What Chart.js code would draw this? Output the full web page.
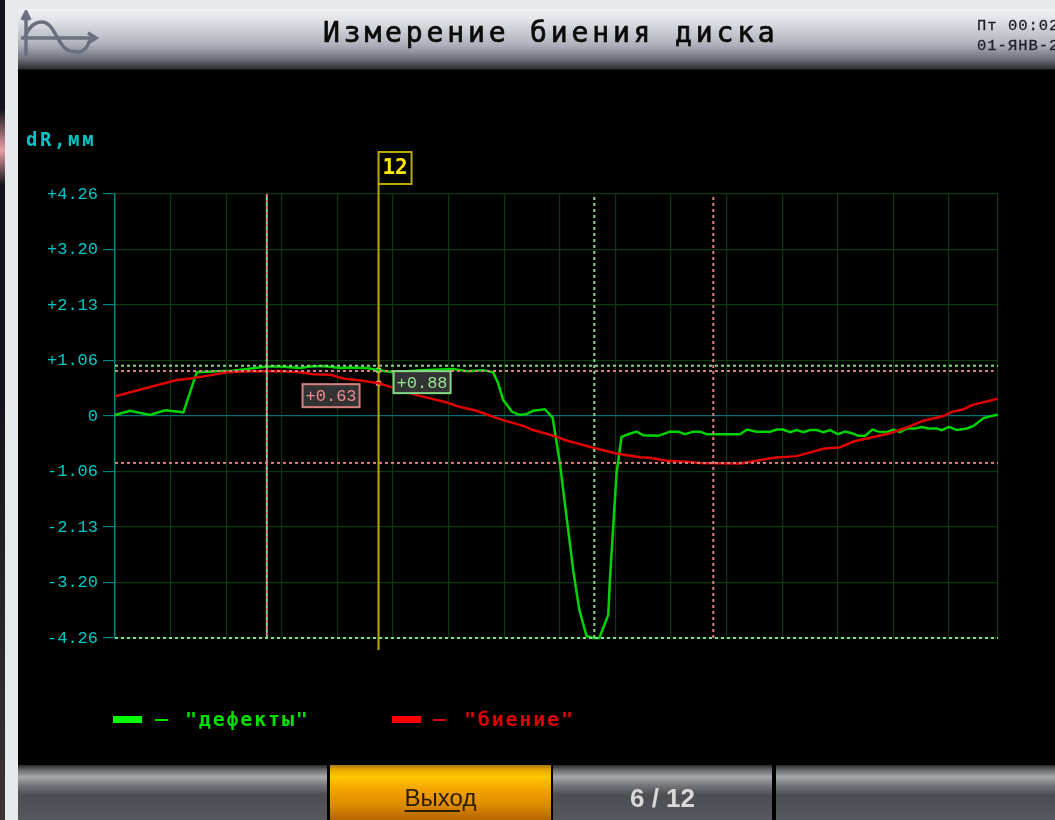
<!DOCTYPE html>
<html lang="ru">
<head>
<meta charset="utf-8">
<title>Измерение биения диска</title>
<script src="https://cdn.jsdelivr.net/npm/chart.js@4"></script>
<style>
  html, body { margin: 0; width: 1055px; height: 820px; overflow: hidden; background: #e8e9ea; }
  body > * { filter: blur(0.45px); }
  .abs { position: absolute; white-space: pre; }
  #edge { left: 0; top: 0; width: 5px; height: 820px;
    background: linear-gradient(#14141c 0, #14141c 110px, #e8a0a8 150px, #14141c 185px, #14141c 400px, #3a3436 100%); }
  #screen { left: 18px; top: 9px; width: 1037px; height: 811px; background: #000; }
  #header { left: 18px; top: 9px; width: 1037px; height: 61px;
    background: linear-gradient(#f0f2f6 0, #dfe1e6 12px, #aeb1bb 36px, #6d717c 50px, #2c2e34 60px, #000 61px); }
  #title { left: 323px; top: 16px; font: 28px "DejaVu Sans Mono"; letter-spacing: 3.85px; -webkit-text-stroke: 0.7px #0a0a0a; color: #0a0a0a; }
  #clock { left: 977px; top: 16px; font: 15.5px/20px "Liberation Mono"; -webkit-text-stroke: 0.3px #20222a; letter-spacing: 1px; color: #20222a; }
  #logo { left: 20px; top: 10px; }
  #unit { left: 26px; top: 128px; font: bold 19px "DejaVu Sans Mono"; letter-spacing: 2.6px; color: #00c4c4; }
  canvas { position: absolute; left: 0; top: 0; }
  .swatch { width: 29px; height: 7px; top: 716px; }
  .dash { width: 13px; height: 2px; top: 719px; }
  .legend-text { top: 707px; font: bold 20px "DejaVu Sans Mono"; letter-spacing: 1.8px; }
  .btn { top: 765px; height: 55px;
    background: linear-gradient(#26272b 0, #6a6b70 5px, #a8a9ad 12px, #77787d 20px, #4c4e54 30px, #56585e 100%); }
  #exit { background: linear-gradient(#a87a10 0, #eaa800 5px, #ffc800 12px, #f4a400 24px, #dc8c00 40px, #b46400 100%);
    font: 24px "Liberation Sans"; color: #2a1c00; text-align: center; line-height: 66px; }
  #exit u { text-underline-offset: 4px; }
  #page { font: bold 26px "Liberation Sans"; color: #d8d8d8; text-align: center; line-height: 66px; }
</style>
</head>
<body>
<div class="abs" id="edge"></div>
<div class="abs" id="screen"></div>
<div class="abs" id="header"></div>
<svg class="abs" id="logo" width="80" height="50" viewBox="0 0 80 50" fill="none" stroke="#6b7080" stroke-width="3.5">
  <path d="M6 3V46M1 28H74M2 10L6 2L10 10M68 23L76 28L68 33"/>
  <path d="M5 27C10 14 17 12 22 12C30 12 34 22 40 32C46 42 52 42 58 42C64 42 68 36 70 30"/>
</svg>
<div class="abs" id="title">Измерение биения диска</div>
<div class="abs" id="clock">Пт 00:02:17
01-ЯНВ-2000</div>
<div class="abs" id="unit">dR,мм</div>
<canvas id="chart" width="1055" height="820"></canvas>
<div class="abs swatch" style="left:113px;background:#00ff00"></div>
<div class="abs dash" style="left:155px;background:#00e000"></div>
<div class="abs legend-text" id="leg0" style="left:185px;color:#00e000"></div>
<div class="abs swatch" style="left:392px;background:#ff0000"></div>
<div class="abs dash" style="left:433px;background:#e00000"></div>
<div class="abs legend-text" id="leg1" style="left:464px;color:#e00000"></div>
<div class="abs btn" style="left:18px;width:309px"></div>
<div class="abs btn" id="exit" style="left:330px;width:221px"><u>Выход</u></div>
<div class="abs btn" id="page" style="left:553px;width:219px">6 / 12</div>
<div class="abs btn" style="left:776px;width:279px"></div>
<script>
const seriesNames = ['"дефекты"', '"биение"'];

// x is in grid divisions, y in mm
const defectX = [0, 0.27, 0.63, 0.9, 1.23, 1.47, 1.83, 2.12, 2.73, 2.97, 3.33, 3.51, 3.75, 4.05, 4.23, 4.53, 4.74, 5, 5.49, 6.08, 6.33, 6.62, 6.8, 6.89, 6.98, 7.14, 7.28, 7.41, 7.52, 7.73, 7.87, 8, 8.24, 8.35, 8.48, 8.6, 8.71, 8.87, 8.9, 9.02, 9.11, 9.23, 9.38, 9.5, 9.77, 9.98, 10.13, 10.25, 10.4, 10.52, 10.64, 11.24, 11.37, 11.54, 11.78, 11.9, 12.01, 12.14, 12.26, 12.38, 12.5, 12.62, 12.74, 12.86, 13, 13.13, 13.25, 13.37, 13.49, 13.62, 13.73, 13.88, 14, 14.12, 14.24, 14.39, 14.51, 14.62, 14.78, 14.87, 15, 15.14, 15.32, 15.44, 15.62, 15.87];
const defectY = [0.02, 0.1, 0.02, 0.11, 0.07, 0.84, 0.86, 0.87, 0.95, 0.95, 0.92, 0.95, 0.96, 0.92, 0.93, 0.92, 0.88, 0.84, 0.88, 0.9, 0.86, 0.88, 0.84, 0.63, 0.31, 0.08, 0.02, 0.04, 0.1, 0.13, -0.03, -0.9, -2.96, -3.72, -4.22, -4.26, -4.26, -3.82, -3.15, -1.09, -0.4, -0.35, -0.3, -0.37, -0.38, -0.3, -0.3, -0.35, -0.3, -0.3, -0.35, -0.35, -0.26, -0.3, -0.3, -0.26, -0.26, -0.31, -0.27, -0.31, -0.27, -0.27, -0.31, -0.27, -0.35, -0.3, -0.33, -0.38, -0.38, -0.26, -0.3, -0.31, -0.26, -0.31, -0.24, -0.24, -0.21, -0.24, -0.24, -0.27, -0.21, -0.27, -0.24, -0.19, -0.04, 0.03];

const runoutX = [0, 1.11, 1.35, 1.65, 2.01, 2.43, 3.02, 3.33, 3.57, 3.87, 4.11, 4.41, 4.74, 5.43, 5.97, 6.15, 6.5, 6.92, 7.34, 7.52, 7.82, 7.94, 8.12, 8.6, 9.02, 9.44, 9.62, 9.92, 10.28, 10.52, 11.24, 11.54, 11.84, 12.26, 12.74, 13.04, 13.28, 13.94, 14.24, 14.54, 14.9, 15.05, 15.26, 15.41, 15.87];
const runoutY = [0.38, 0.69, 0.72, 0.77, 0.84, 0.86, 0.86, 0.84, 0.8, 0.79, 0.72, 0.68, 0.63, 0.4, 0.26, 0.19, 0.1, -0.06, -0.19, -0.27, -0.36, -0.4, -0.47, -0.61, -0.72, -0.79, -0.8, -0.86, -0.88, -0.9, -0.91, -0.86, -0.8, -0.77, -0.63, -0.6, -0.49, -0.33, -0.22, -0.09, 0, 0.08, 0.13, 0.21, 0.33];

const yTicks = [4.26, 3.2, 2.13, 1.06, 0, -1.06, -2.13, -3.2, -4.26];
const yLabels = ['+4.26', '+3.20', '+2.13', '+1.06', '0', '-1.06', '-2.13', '-3.20', '-4.26'];
const xTicks = [0, 1, 2, 3, 4, 5, 6, 7, 8, 9, 10, 11, 12, 13, 14, 15, 15.88];

const defectMax = 0.965, defectMin = -4.26, runoutMax = 0.864, runoutMin = -0.9;
const defectMaxAt = 2.73, defectMinAt = 8.62, runoutMaxAt = 2.73, runoutMinAt = 10.76;
const cursorAt = 4.74, cursorNumber = '12', cursorDefect = 0.88, cursorRunout = 0.63;

document.getElementById('leg0').textContent = seriesNames[0];
document.getElementById('leg1').textContent = seriesNames[1];

const pairs = (xs, ys) => xs.map((x, i) => ({ x, y: ys[i] }));
const dotted = (data, color, offset) => ({
  data, borderColor: color, borderWidth: 2, borderDash: [3, 3], borderDashOffset: offset || 0,
  pointRadius: 0, clip: false,
});

const dimGreen = '#86d986', dimRed = '#d88080';

// cursor flag and the two value boxes
const cursorLabels = {
  id: 'cursorLabels',
  afterDatasetsDraw(chart) {
    const { ctx, scales: { x, y } } = chart;
    const cx = x.getPixelForValue(cursorAt);
    const box = (left, top, w, h, fill, stroke, color, text, font) => {
      ctx.fillStyle = fill;
      ctx.strokeStyle = stroke;
      ctx.lineWidth = 2;
      ctx.fillRect(left, top, w, h);
      ctx.strokeRect(left, top, w, h);
      ctx.fillStyle = color;
      ctx.font = font;
      ctx.textAlign = 'center';
      ctx.textBaseline = 'middle';
      ctx.fillText(text, left + w / 2, top + h / 2 + 1);
    };
    ctx.save();
    box(cx, 152, 33, 32, '#000', '#b8a800', '#ffe800', cursorNumber, 'bold 21px "DejaVu Sans Mono"');
    const font = '17px "Liberation Mono"';
    box(cx + 15, y.getPixelForValue(cursorDefect) + 1, 57, 22, '#333', dimGreen, '#94e894', '+' + cursorDefect.toFixed(2), font);
    box(cx - 76, y.getPixelForValue(cursorRunout) + 1, 57, 23, '#333', dimRed, '#f08c8c', '+' + cursorRunout.toFixed(2), font);
    ctx.restore();
  },
};

new Chart(document.getElementById('chart'), {
  type: 'line',
  data: {
    datasets: [
      dotted(pairs([0, 15.88], [defectMax, defectMax]), dimGreen),
      dotted(pairs([0, 15.8], [runoutMax, runoutMax]), dimRed),
      dotted(pairs([0, 15.88], [runoutMin, runoutMin]), dimRed),
      dotted(pairs([0, 15.88], [defectMin, defectMin]), dimGreen),
      dotted(pairs([defectMinAt, defectMinAt], [defectMin, 4.26]), dimGreen),
      dotted(pairs([runoutMinAt, runoutMinAt], [defectMin, 4.26]), dimRed),
      dotted(pairs([defectMaxAt, defectMaxAt], [defectMin, 4.26]), dimGreen),
      dotted(pairs([runoutMaxAt, runoutMaxAt], [defectMin, 4.26]), dimRed, 3),
      {
        label: seriesNames[1], data: pairs(runoutX, runoutY),
        borderColor: '#e00000', borderWidth: 2.5, pointRadius: 0, tension: 0,
      },
      {
        label: seriesNames[0], data: pairs(defectX, defectY),
        borderColor: '#00d400', borderWidth: 2.5, pointRadius: 0, tension: 0, clip: false,
      },
      {
        data: pairs([cursorAt, cursorAt], [4.46, -4.49]),
        borderColor: '#b8a800', borderWidth: 2, pointRadius: 0, clip: false,
      },
      {
        data: pairs([cursorAt], [cursorDefect]), showLine: false,
        pointRadius: 3, pointBackgroundColor: '#a8f0a8', pointBorderWidth: 0,
      },
      {
        data: pairs([cursorAt], [cursorRunout]), showLine: false,
        pointRadius: 3, pointBackgroundColor: '#ff9090', pointBorderWidth: 0,
      },
    ],
  },
  options: {
    responsive: false,
    animation: false,
    layout: { padding: { left: 0, right: 57, top: 194, bottom: 182 } },
    plugins: { legend: { display: false }, tooltip: { enabled: false } },
    scales: {
      x: {
        type: 'linear', min: 0, max: 15.88,
        afterBuildTicks: (s) => { s.ticks = xTicks.map((value) => ({ value })); },
        ticks: { display: false },
        border: { display: false },
        grid: { color: '#0d3a0d', lineWidth: 1.2, drawTicks: false },
      },
      y: {
        type: 'linear', min: -4.26, max: 4.26,
        afterBuildTicks: (s) => { s.ticks = yTicks.map((value) => ({ value })); },
        afterFit: (s) => { s.width = 115; },
        ticks: {
          autoSkip: false, padding: 5, color: '#00c8c8',
          font: { family: 'Liberation Mono', size: 17 },
          callback: (value) => yLabels[yTicks.indexOf(value)],
        },
        border: { color: '#0a7f84', width: 1.5 },
        grid: {
          tickLength: 12, tickColor: '#0a7f84', lineWidth: 1.2,
          color: (c) => (c.tick && c.tick.value === 0 ? '#0a6f78' : '#0d3a0d'),
        },
      },
    },
  },
  plugins: [cursorLabels],
});
</script>
</body>
</html>
